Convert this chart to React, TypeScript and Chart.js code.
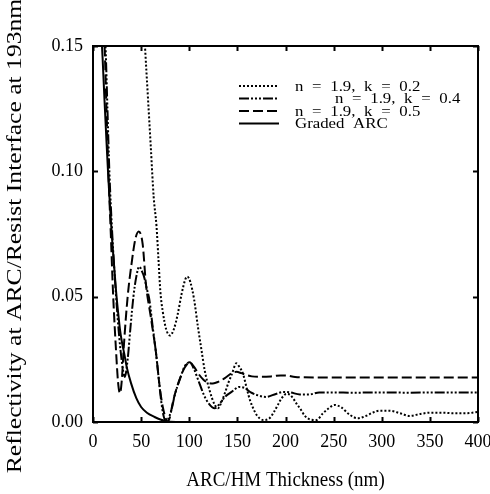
import React, { useEffect, useRef } from "react";
import { Chart, registerables } from "chart.js";

Chart.register(...registerables);

// ---- data ----
const k02Thickness = [48, 52, 54, 57, 60, 63, 66, 68, 70, 72.5, 76, 80, 84, 88, 92, 96, 98, 101, 105, 109, 112.7, 116, 121, 126.5, 130, 133, 137, 141, 144, 149, 152, 155.7, 160, 163, 167, 170, 176.7, 183.7, 188, 192, 196, 201, 205, 208, 212, 215, 220, 225, 232, 239, 245, 251, 258, 267, 275, 284, 291, 298, 308, 319, 329, 340, 350, 364, 374, 388, 400];
const k02Reflectivity = [0.2, 0.165, 0.15, 0.13, 0.11, 0.09, 0.078, 0.065, 0.052, 0.044, 0.037, 0.0345, 0.037, 0.043, 0.051, 0.057, 0.058, 0.056, 0.049, 0.038, 0.0287, 0.0207, 0.0128, 0.0068, 0.0055, 0.0075, 0.0115, 0.016, 0.0188, 0.0234, 0.022, 0.0194, 0.013, 0.0088, 0.005, 0.0028, 0.0008, 0.0016, 0.004, 0.0068, 0.0095, 0.0112, 0.0108, 0.0094, 0.007, 0.0055, 0.0025, 0.0011, 0.0008, 0.0035, 0.0055, 0.0068, 0.0058, 0.0028, 0.0015, 0.0025, 0.0038, 0.0045, 0.0045, 0.0035, 0.0024, 0.0032, 0.0037, 0.0037, 0.0035, 0.0035, 0.004];

const k04Thickness = [5, 10, 13, 15, 17, 20, 24, 27, 30, 33, 36, 39, 42, 45, 48, 51, 53, 56, 58.6, 62, 65, 67, 70.7, 73, 76, 79, 81.5, 85, 90, 95, 100.5, 105, 110, 115, 120, 126.5, 131, 137, 144, 152, 158, 164, 170, 180, 190, 197.5, 205, 215, 225, 235, 250, 270, 300, 330, 360, 400];
const k04Reflectivity = [0.22, 0.17, 0.15, 0.125, 0.1, 0.075, 0.05, 0.035, 0.024, 0.018, 0.025, 0.038, 0.05, 0.058, 0.062, 0.06, 0.058, 0.053, 0.0487, 0.038, 0.029, 0.022, 0.0088, 0.003, 0.0002, 0.002, 0.0048, 0.0108, 0.0168, 0.022, 0.0238, 0.021, 0.016, 0.011, 0.0075, 0.0055, 0.007, 0.01, 0.012, 0.014, 0.0135, 0.0118, 0.0108, 0.01, 0.0112, 0.012, 0.0118, 0.011, 0.011, 0.0118, 0.0118, 0.0117, 0.0118, 0.0117, 0.0118, 0.0118];

const k05Thickness = [5, 10, 12, 14, 16, 18.5, 21, 24, 26, 28, 30, 32, 36, 40, 44, 47.5, 51.6, 55, 60, 65.5, 69, 72.5, 77.7, 80, 82, 85, 90, 95, 100.5, 105, 110, 115, 120, 124.6, 130, 137, 144, 149, 154, 159, 165, 173, 185, 195, 200, 210, 230, 260, 300, 340, 400];
const k05Reflectivity = [0.2, 0.16, 0.15, 0.125, 0.1, 0.075, 0.05, 0.028, 0.016, 0.0115, 0.017, 0.03, 0.05, 0.063, 0.073, 0.076, 0.071, 0.055, 0.042, 0.0275, 0.015, 0.006, 0.0002, 0.002, 0.006, 0.011, 0.017, 0.0215, 0.0238, 0.022, 0.019, 0.0168, 0.0156, 0.0154, 0.016, 0.0175, 0.0194, 0.02, 0.0195, 0.0188, 0.0182, 0.018, 0.0182, 0.0186, 0.0186, 0.018, 0.0178, 0.0178, 0.0178, 0.0178, 0.0178];

const gradedThickness = [6, 8, 10, 12, 14, 16, 18, 20, 22, 24, 26, 28, 30, 32.6, 35, 39.5, 45, 50, 56, 64, 70, 78, 90, 400];
const gradedReflectivity = [0.18, 0.16, 0.145, 0.128, 0.112, 0.097, 0.084, 0.072, 0.062, 0.052, 0.044, 0.037, 0.032, 0.027, 0.022, 0.0155, 0.0095, 0.006, 0.0037, 0.002, 0.001, 0.0002, 0, 0];

const seriesLabels = ["n = 1.9, k = 0.2", "n = 1.9, k = 0.4", "n = 1.9, k = 0.5", "Graded ARC"];
const xAxisTitle = "ARC/HM Thickness (nm)";
const yAxisTitle = "Reflectivity at ARC/Resist Interface at 193nm";
const xTickValues = [0, 50, 100, 150, 200, 250, 300, 350, 400];
const yTickValues = [0, 0.05, 0.1, 0.15];

const FONT = "'Liberation Serif', 'Times New Roman', serif";

function zip(xs: number[], ys: number[]) {
  return xs.map((x, i) => ({ x, y: ys[i] }));
}

const framePlugin = {
  id: "frameTicksLegend",
  afterDatasetsDraw(chart: any) {
    const { ctx, chartArea } = chart;
    const { left, right, top, bottom } = chartArea;
    const xs = chart.scales.x;
    const ys = chart.scales.y;
    ctx.save();
    ctx.strokeStyle = "#000";
    ctx.lineWidth = 2;
    ctx.setLineDash([]);
    ctx.strokeRect(left, top, right - left, bottom - top);
    const tl = 5;
    ctx.beginPath();
    xTickValues.forEach((v) => {
      const px = Math.round(xs.getPixelForValue(v)) + 0.5;
      ctx.moveTo(px, bottom);
      ctx.lineTo(px, bottom - tl);
      ctx.moveTo(px, top);
      ctx.lineTo(px, top + tl);
    });
    yTickValues.forEach((v) => {
      const py = Math.round(ys.getPixelForValue(v)) + 0.5;
      ctx.moveTo(left, py);
      ctx.lineTo(left + tl, py);
      ctx.moveTo(right, py);
      ctx.lineTo(right - tl, py);
    });
    ctx.stroke();

    // legend
    const lx0 = 239;
    const lx1 = 279;
    const rowY = [86, 98.5, 111, 123.5];
    const textX = [295, 335, 295, 295];
    ctx.fillStyle = "#000";
    ctx.textBaseline = "middle";
    ctx.textAlign = "left";
    chart.data.datasets.forEach((ds: any, i: number) => {
      ctx.save();
      ctx.lineWidth = ds.borderWidth;
      ctx.setLineDash(ds.borderDash || []);
      ctx.lineCap = "butt";
      ctx.beginPath();
      ctx.moveTo(lx0, rowY[i]);
      ctx.lineTo(lx1, rowY[i]);
      ctx.stroke();
      ctx.restore();
      ctx.save();
      ctx.translate(textX[i], rowY[i] + 1);
      ctx.scale(1.12, 1);
      ctx.font = "15px " + FONT;
      (ctx as any).wordSpacing = "4px";
      ctx.fillText(ds.label, 0, 0);
      ctx.restore();
    });

    // axis titles
    const cx = (left + right) / 2;
    const cy = (top + bottom) / 2;
    ctx.font = "19px " + FONT;
    ctx.textAlign = "center";
    ctx.textBaseline = "middle";
    ctx.save();
    ctx.translate(cx, 480);
    ctx.scale(1, 1.15);
    ctx.fillText(xAxisTitle, 0, 0);
    ctx.restore();

    ctx.save();
    ctx.translate(15, cy + 2);
    ctx.rotate(-Math.PI / 2);
    ctx.scale(1.22, 1);
    ctx.font = "21px " + FONT;
    ctx.fillText(yAxisTitle, 0, 0);
    ctx.restore();

    ctx.restore();
  },
};

export default function App() {
  const canvasRef = useRef<HTMLCanvasElement | null>(null);

  useEffect(() => {
    if (!canvasRef.current) return;
    const common = { pointRadius: 0, borderColor: "#000", fill: false, cubicInterpolationMode: "monotone" as const, borderCapStyle: "butt" as const };
    const chart = new Chart(canvasRef.current, {
      type: "line",
      data: {
        datasets: [
          { ...common, label: seriesLabels[0], data: zip(k02Thickness, k02Reflectivity), borderWidth: 2, borderDash: [2, 2] },
          { ...common, label: seriesLabels[1], data: zip(k04Thickness, k04Reflectivity), borderWidth: 2, borderDash: [10, 2, 2, 2, 2, 2, 2, 2] },
          { ...common, label: seriesLabels[2], data: zip(k05Thickness, k05Reflectivity), borderWidth: 2, borderDash: [10, 4] },
          { ...common, label: seriesLabels[3], data: zip(gradedThickness, gradedReflectivity), borderWidth: 2, borderDash: [] },
        ],
      },
      options: {
        animation: false,
        responsive: true,
        maintainAspectRatio: false,
        layout: { padding: { left: 0, top: 46, right: 12, bottom: 0 } },
        plugins: { legend: { display: false }, tooltip: { enabled: false } },
        scales: {
          x: {
            type: "linear",
            min: 0,
            max: 400,
            grid: { display: false, drawTicks: false },
            border: { display: false },
            ticks: { stepSize: 50, padding: 9, color: "#000", font: { family: FONT, size: 18 }, maxRotation: 0 },
            title: { display: false },
            afterFit: (s: any) => { s.height = 72; s.paddingLeft = 0; s.paddingRight = 0; },
          },
          y: {
            type: "linear",
            min: 0,
            max: 0.15,
            grid: { display: false, drawTicks: false },
            border: { display: false },
            ticks: { stepSize: 0.05, padding: 10, color: "#000", font: { family: FONT, size: 18 }, callback: (v: any) => Number(v).toFixed(2) },
            title: { display: false },
            afterFit: (s: any) => { s.width = 93; s.paddingTop = 0; s.paddingBottom = 0; },
          },
        },
      },
      plugins: [framePlugin],
    });
    return () => chart.destroy();
  }, []);

  return (
    <div style={{ position: "fixed", left: 0, top: 0, width: 490, height: 494, background: "#fff" }}>
      <canvas ref={canvasRef} />
    </div>
  );
}
